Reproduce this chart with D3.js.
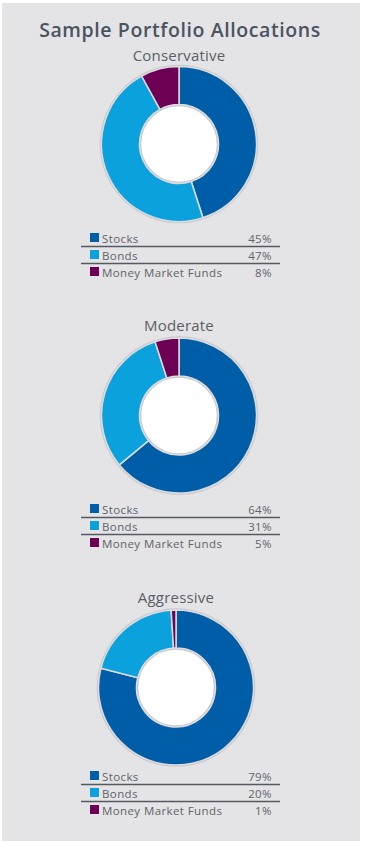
<!DOCTYPE html>
<html>
<head>
<meta charset="utf-8">
<script src="https://cdn.jsdelivr.net/npm/d3@7"></script>
<style>
  body { margin: 0; background: #fff; }
  svg { display: block; font-family: "Open Sans", Lato, sans-serif; }
  .title { font-size: 19.5px; font-weight: 600; fill: #4a5360; letter-spacing: 0.6px; }
  .portfolio { font-size: 15px; fill: #5a5f66; letter-spacing: 0.2px; }
  .legend text { font-size: 11.5px; fill: #5f6368; letter-spacing: 0.4px; }
</style>
</head>
<body>
<svg></svg>
<script>
const categories = ["Stocks", "Bonds", "Money Market Funds"]
const colors = ["#005da8", "#0aa1dc", "#6d0055"]

const portfolios = ["Conservative", "Moderate", "Aggressive"]
const conservative = [45, 47, 8]
const moderate = [64, 31, 5]
const aggressive = [79, 20, 1]
const allocations = [conservative, moderate, aggressive]

const svg = d3.select("svg")
  .attr("width", 365)
  .attr("height", 844)

svg.append("rect")
  .attr("x", 2)
  .attr("y", 3)
  .attr("width", 358)
  .attr("height", 838)
  .style("fill", "#e4e4e6")

svg.append("text")
  .attr("class", "title")
  .attr("x", 180)
  .attr("y", 37)
  .attr("text-anchor", "middle")
  .text("Sample Portfolio Allocations")

// section layout: title baseline, donut centre, first legend row
const titleY = [61, 331, 603]
const centreX = [179, 179, 176]
const centreY = [144, 415.5, 687.5]
const legendY = [243, 514, 781]

const pie = d3.pie().sort(null).value(d => d)
const arc = d3.arc().innerRadius(39.5).outerRadius(77.5)

const rowScale = d3.scaleLinear().domain([0, 1]).range([0, 17])

const sections = svg.selectAll("g.section")
  .data(allocations)
  .enter()
  .append("g")
  .attr("class", "section")

sections.append("text")
  .attr("class", "portfolio")
  .attr("x", (d, i) => centreX[i])
  .attr("y", (d, i) => titleY[i])
  .attr("text-anchor", "middle")
  .text((d, i) => portfolios[i])

const donuts = sections.append("g")
  .attr("transform", (d, i) => `translate(${centreX[i]}, ${centreY[i]})`)

// soft grey halo round the ring
donuts.append("circle")
  .attr("r", 78.5)
  .style("fill", "none")
  .style("stroke", "#c9c9cc")
  .style("stroke-width", 1.5)

donuts.append("circle")
  .attr("r", 38.5)
  .style("fill", "#fff")
  .style("stroke", "#c9c9cc")
  .style("stroke-width", 1.5)

donuts.selectAll("path")
  .data(d => pie(d))
  .enter()
  .append("path")
  .attr("d", arc)
  .style("fill", (d, i) => colors[i])
  .style("stroke", "#dcdcde")
  .style("stroke-width", 1.5)

const legends = sections.append("g")
  .attr("class", "legend")
  .attr("transform", (d, i) => `translate(0, ${legendY[i]})`)

const rows = legends.selectAll("g.row")
  .data(d => d)
  .enter()
  .append("g")
  .attr("class", "row")
  .attr("transform", (d, i) => `translate(0, ${rowScale(i)})`)

rows.append("rect")
  .attr("x", 90)
  .attr("y", -10)
  .attr("width", 9)
  .attr("height", 9)
  .style("fill", (d, i) => colors[i])

rows.append("text")
  .attr("x", 102)
  .attr("y", 0)
  .text((d, i) => categories[i])

rows.append("text")
  .attr("x", 272)
  .attr("y", 0)
  .attr("text-anchor", "end")
  .text(d => d + "%")

rows.filter((d, i) => i < categories.length - 1)
  .append("line")
  .attr("x1", 81)
  .attr("x2", 280)
  .attr("y1", 3.5)
  .attr("y2", 3.5)
  .style("stroke", "#555a60")
  .style("stroke-width", 1.3)
</script>
</body>
</html>
